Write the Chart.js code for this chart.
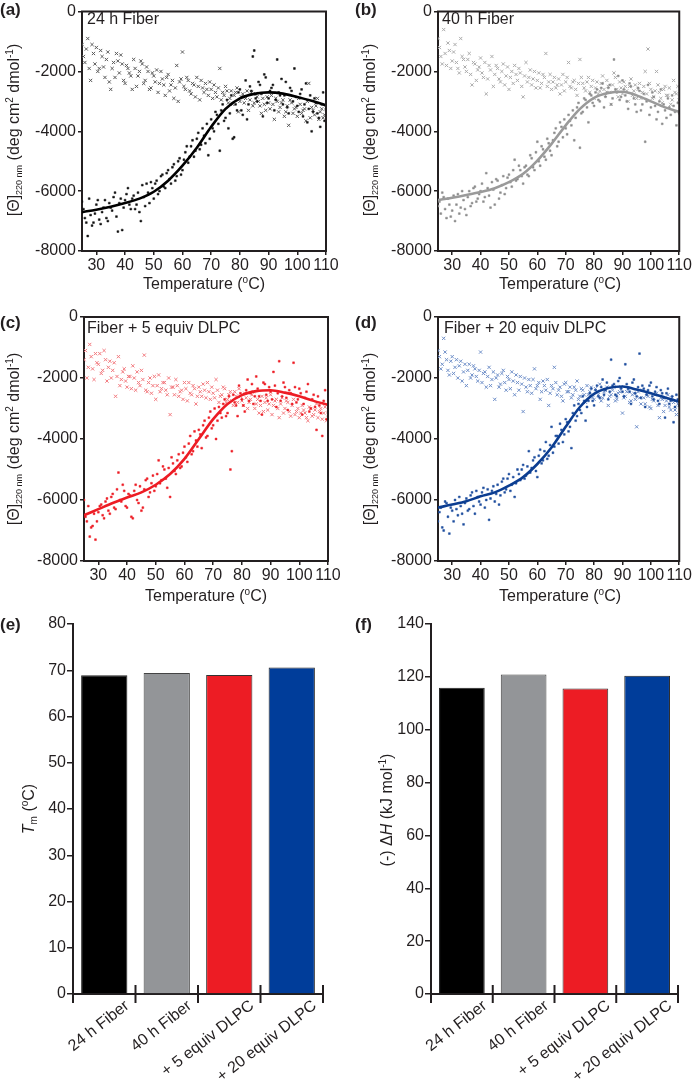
<!DOCTYPE html>
<html>
<head>
<meta charset="utf-8">
<script src="https://cdn.jsdelivr.net/npm/chart.js@4.4.0/dist/chart.umd.min.js"></script>
<style>
  html, body { margin: 0; padding: 0; background: #fff; overflow: hidden; }
  #page { position: relative; width: 693px; height: 1082px; }
  canvas { position: absolute; }
</style>
</head>
<body>
<div id="page">
  <canvas id="chartA" width="345" height="300" style="left:0;top:0"></canvas>
  <canvas id="chartB" width="348" height="300" style="left:345px;top:0"></canvas>
  <canvas id="chartC" width="345" height="305" style="left:0;top:300px"></canvas>
  <canvas id="chartD" width="348" height="305" style="left:345px;top:300px"></canvas>
  <canvas id="chartE" width="345" height="477" style="left:0;top:605px"></canvas>
  <canvas id="chartF" width="348" height="477" style="left:345px;top:605px"></canvas>
</div>
<script>
// measurement temperatures (°C): whole degrees and the half-degree readings in between
const temps = [25, 26, 27, 28, 29, 30, 31, 32, 33, 34,
  35, 36, 37, 38, 39, 40, 41, 42, 43, 44,
  45, 46, 47, 48, 49, 50, 51, 52, 53, 54,
  55, 56, 57, 58, 59, 60, 61, 62, 63, 64,
  65, 66, 67, 68, 69, 70, 71, 72, 73, 74,
  75, 76, 77, 78, 79, 80, 81, 82, 83, 84,
  85, 86, 87, 88, 89, 90, 91, 92, 93, 94,
  95, 96, 97, 98, 99, 100, 101, 102, 103, 104,
  105, 106, 107, 108, 109, 110];
const halfTemps = [25.5, 26.5, 27.5, 28.5, 29.5, 30.5, 31.5, 32.5, 33.5, 34.5,
  35.5, 36.5, 37.5, 38.5, 39.5, 40.5, 41.5, 42.5, 43.5, 44.5,
  45.5, 46.5, 47.5, 48.5, 49.5, 50.5, 51.5, 52.5, 53.5, 54.5,
  55.5, 56.5, 57.5, 58.5, 59.5, 60.5, 61.5, 62.5, 63.5, 64.5,
  65.5, 66.5, 67.5, 68.5, 69.5, 70.5, 71.5, 72.5, 73.5, 74.5,
  75.5, 76.5, 77.5, 78.5, 79.5, 80.5, 81.5, 82.5, 83.5, 84.5,
  85.5, 86.5, 87.5, 88.5, 89.5, 90.5, 91.5, 92.5, 93.5, 94.5,
  95.5, 96.5, 97.5, 98.5, 99.5, 100.5, 101.5, 102.5, 103.5, 104.5,
  105.5, 106.5, 107.5, 108.5, 109.5];

// (a) 24 h Fiber
const aDots = [-6350, -6900, -7500, -6800, -7050, -6450, -6950, -6700, -6300, -7000,
  -6550, -6200, -6850, -6400, -7300, -6300, -5900, -6600, -6150, -6450,
  -6700, -5800, -6500, -6050, -5700, -6250, -5650, -6000, -5450, -5900,
  -5300, -5750, -5100, -5500, -4900, -5300, -4700, -5050, -4500, -4850,
  -4250, -4600, -3900, -4400, -4800, -3600, -4000, -3450, -4650, -3100,
  -3550, -3900, -2800, -4200, -3300, -2600, -3450, -2300, -3100, -2650,
  -1300, -3000, -2450, -3500, -2200, -2900, -2550, -3300, -1600, -2800,
  -3100, -2350, -3400, -2650, -1900, -3150, -2750, -3500, -2400, -3250,
  -4000, -2900, -3400, -3850, -2700, -3300];
const aDotsHalf = [-6600, -7050, -6250, -7150, -6750, -6300, -7100, -6550, -6900, -6400,
  -6650, -6050, -7350, -6250, -6550, -6100, -6450, -6250, -6600, -6050,
  -7000, -6200, -5750, -6400, -5900, -5750, -6100, -5500, -5850, -5400,
  -5600, -5200, -5650, -5000, -5450, -4950, -4500, -4850, -4300, -4650,
  -4050, -4450, -4150, -3750, -4250, -3900, -3350, -3750, -3300, -3650,
  -2950, -3400, -4250, -3100, -2700, -3300, -2850, -3600, -2500, -1500,
  -2900, -2350, -2750, -2100, -3050, -2650, -2450, -2950, -2700, -2250,
  -2800, -3200, -2550, -3000, -2850, -3350, -2600, -3100, -3700, -2800,
  -3350, -3050, -3550, -3100, -3650];
const aCross = [-1100, -1700, -900, -2300, -1400, -1200, -1900, -1500, -2200, -1350,
  -2600, -1700, -1400, -2050, -1750, -2400, -1900, -2150, -1600, -2500,
  -2000, -1750, -2300, -2000, -2550, -2150, -1950, -2400, -2250, -2800,
  -2100, -2450, -2900, -1800, -2350, -1350, -2600, -2300, -2750, -2450,
  -2200, -2950, -2550, -2400, -2800, -2600, -2450, -2850, -1900, -2700,
  -2500, -3050, -2650, -2800, -2550, -3000, -2750, -2900, -3300, -2700,
  -3050, -2850, -3150, -2900, -3300, -3050, -2800, -3600, -3000, -3200,
  -2950, -3350, -3800, -3050, -3250, -3500, -3100, -3300, -3650, -2400,
  -3200, -3450, -2900, -3350, -3550, -3200];
const aCrossHalf = [-1500, -1250, -1900, -1100, -1750, -2000, -1300, -1850, -1600, -2350,
  -1900, -2200, -1650, -1450, -2300, -1800, -2050, -2600, -1900, -2150,
  -1650, -2400, -1850, -2600, -2050, -2350, -2700, -2000, -2450, -2200,
  -2650, -2300, -2550, -3000, -2250, -2500, -2200, -2650, -2400, -2850,
  -2500, -2300, -2700, -2600, -2350, -2900, -2700, -2550, -2950, -2800,
  -2650, -2900, -3100, -2700, -3350, -2850, -3050, -2650, -2950, -3150,
  -2750, -3000, -3400, -3100, -2850, -3250, -3100, -2900, -3350, -3050,
  -3500, -3150, -2950, -3400, -3200, -2900, -3400, -3250, -3000, -3550,
  -3300, -3150, -3600, -3250, -3450];

// (b) 40 h Fiber
const bDots = [-6500, -6750, -6200, -6900, -6450, -6650, -7000, -6100, -6550, -6300,
  -6800, -6000, -6400, -5850, -6250, -6000, -6350, -5400, -6150, -5700,
  -6450, -5650, -6050, -5500, -5900, -5450, -5850, -4950, -5600, -5300,
  -5750, -5150, -5500, -4900, -5300, -4350, -5150, -4600, -4950, -4400,
  -4800, -4050, -4500, -3700, -4200, -3900, -3450, -3800, -4300, -3200,
  -4550, -3350, -2950, -3700, -2800, -3150, -2600, -3000, -2400, -2850,
  -2550, -3100, -1600, -2700, -2950, -2300, -2800, -3250, -2500, -2900,
  -3350, -2650, -3100, -4350, -2450, -3200, -2850, -3600, -3000, -3750,
  -3300, -2900, -3450, -3150, -3800, -3400];
const bDotsHalf = [-6350, -6050, -6600, -6250, -6850, -6150, -6450, -6750, -6000, -6600,
  -6200, -6500, -5900, -6350, -6100, -5750, -6200, -5900, -6550, -5950,
  -5600, -6250, -5800, -6100, -5550, -5700, -5300, -5650, -5150, -5500,
  -5200, -5450, -4800, -5200, -4700, -5000, -4500, -4850, -4250, -4650,
  -4300, -3900, -4350, -3850, -3600, -4100, -3650, -3300, -3550, -3050,
  -3400, -2900, -3200, -2750, -3050, -2700, -2950, -2550, -3200, -2700,
  -2450, -2900, -2600, -2150, -2850, -2600, -3000, -2400, -2750, -3100,
  -2550, -3300, -2750, -3000, -3450, -2700, -3150, -3350, -2600, -3100,
  -3550, -3200, -2800, -3350, -3050];
const bCross = [-900, -1500, -600, -1800, -1300, -1650, -1100, -1900, -900, -1600,
  -2000, -1400, -2450, -1750, -1950, -1550, -2200, -2750, -1800, -1500,
  -2100, -1900, -2350, -1750, -2150, -2600, -2000, -1800, -2300, -2050,
  -2850, -1700, -2200, -2450, -2000, -2300, -2550, -2100, -1400, -2350,
  -2600, -2200, -2450, -2750, -2100, -2350, -1700, -2550, -2300, -2800,
  -1600, -2400, -2650, -2200, -2500, -2900, -2350, -2650, -2150, -2800,
  -2500, -3100, -2050, -2600, -2350, -2750, -2500, -3000, -2250, -2650,
  -2900, -2400, -2700, -2000, -1250, -2600, -2850, -2000, -2700, -3050,
  -2500, -2800, -3100, -2300, -2750, -2950];
const bCrossHalf = [-1200, -1750, -1400, -1050, -1900, -1350, -1700, -2050, -1500, -1850,
  -1600, -2100, -1700, -2300, -1850, -2050, -1700, -2250, -1950, -2500,
  -1800, -2250, -2000, -2450, -1850, -2200, -2400, -2100, -1900, -2500,
  -2150, -2350, -1950, -2250, -2550, -2050, -2400, -2200, -2500, -2100,
  -2350, -2550, -2250, -2450, -2650, -2200, -2500, -2350, -2600, -2400,
  -2200, -2550, -2350, -2700, -2300, -2550, -2750, -2400, -2600, -2300,
  -2700, -2450, -2200, -2850, -2550, -2350, -2650, -2500, -2800, -2450,
  -2600, -2900, -2500, -2750, -2400, -2900, -2650, -2450, -2900, -2600,
  -2800, -2550, -2950, -2700, -2500];

// (c) Fiber + 5 equiv DLPC
const cDots = [-6000, -6700, -7200, -6850, -7300, -6400, -6150, -6600, -5950, -6450,
  -5800, -6300, -5100, -6050, -5700, -6250, -5850, -6600, -5500, -6100,
  -6350, -5650, -5300, -5750, -5200, -5550, -4700, -5350, -5000, -5600,
  -5900, -4800, -5150, -4500, -4900, -4250, -4750, -3900, -4400, -4050,
  -3700, -4300, -3400, -3900, -3100, -3550, -4000, -2950, -3300, -2700,
  -3150, -5000, -2550, -2900, -2250, -2700, -3100, -2050, -2500, -2850,
  -1950, -2600, -3200, -2200, -2750, -2450, -1800, -2950, -1450, -2600,
  -2300, -3050, -2500, -1500, -2800, -2350, -3200, -2650, -2200, -3000,
  -2550, -3700, -2900, -3900, -2400, -3100];
const cDotsHalf = [-6550, -6200, -6900, -6450, -6700, -6200, -6500, -6050, -6350, -5900,
  -6250, -5650, -6000, -5500, -6200, -5800, -6550, -5700, -6000, -5550,
  -6250, -5350, -5900, -5450, -5700, -5150, -5450, -4900, -5300, -4950,
  -4600, -5050, -4700, -4950, -4450, -4600, -4150, -4500, -3750, -4250,
  -3850, -3550, -3950, -3300, -3650, -3000, -3400, -3150, -2850, -3250,
  -2600, -4400, -2800, -3250, -2500, -2900, -2400, -2750, -2200, -2600,
  -2350, -2750, -2150, -2550, -2300, -2700, -2250, -2500, -2750, -2150,
  -2650, -2400, -2850, -2300, -2700, -2500, -2850, -2450, -3100, -2700,
  -2950, -2600, -3150, -2750, -3350];
const cCross = [-1400, -2000, -900, -1700, -1200, -1550, -1850, -1100, -2100, -1450,
  -1750, -2600, -1300, -2050, -1700, -2300, -1950, -1600, -2400, -2150,
  -1750, -1250, -2450, -2000, -2250, -2700, -1900, -2350, -2150, -2550,
  -3200, -2300, -2050, -2600, -2400, -2150, -2750, -2500, -2250, -2850,
  -2300, -2600, -2400, -2150, -2700, -2500, -2050, -2800, -2550, -2350,
  -2700, -2450, -2900, -2600, -2350, -2750, -2500, -3000, -2700, -2450,
  -2850, -3150, -2600, -2800, -3050, -2550, -2900, -2700, -3300, -2650,
  -3000, -2800, -3250, -2700, -3100, -3300, -2900, -3150, -3400, -3000,
  -3200, -2850, -3100, -3350, -2950, -3200];
const cCrossHalf = [-1100, -1650, -1300, -2050, -1500, -1200, -1750, -1400, -1650, -2000,
  -1500, -1950, -2250, -1800, -2100, -1950, -2350, -2000, -1800, -2250,
  -2050, -2400, -2150, -2500, -1950, -2250, -2450, -2150, -2400, -2000,
  -2300, -2550, -2250, -2450, -2700, -2350, -2150, -2550, -2350, -2600,
  -2450, -2200, -2650, -2450, -2300, -2650, -2400, -2600, -2300, -2800,
  -2550, -2750, -2450, -2800, -2600, -2900, -2650, -2800, -2550, -3000,
  -2700, -2900, -3100, -2650, -2850, -3200, -2750, -3000, -2850, -3150,
  -2750, -3100, -2900, -3200, -3000, -3150, -3050, -3300, -2950, -3250,
  -3050, -3300, -3000, -3150, -3400];

// (d) Fiber + 20 equiv DLPC
const dDots = [-6700, -6250, -7000, -6100, -7100, -6350, -6000, -6500, -6200, -6800,
  -5950, -6300, -5750, -6450, -5900, -6150, -5600, -6000, -6650, -5700,
  -6050, -5500, -5850, -5300, -5650, -5150, -5500, -5900, -5000, -5350,
  -4850, -5200, -4400, -4950, -4600, -5250, -4350, -4700, -4100, -4550,
  -3600, -4250, -3900, -3500, -4100, -3350, -3750, -4300, -2900, -3250,
  -3050, -2600, -3400, -2750, -2350, -2900, -2250, -2650, -2050, -2400,
  -2700, -1400, -2200, -2600, -2000, -2450, -1550, -2350, -2850, -2050,
  -2600, -1200, -2250, -2950, -2400, -2150, -2700, -2300, -2850, -2500,
  -3300, -2350, -2750, -3450, -2550, -2900];
const dDotsHalf = [-6400, -6900, -6050, -6550, -6250, -6700, -6300, -5900, -6450, -6100,
  -6350, -5850, -6200, -5700, -6050, -5750, -6250, -5650, -5950, -5550,
  -5800, -6150, -5400, -5750, -5300, -5700, -5250, -5450, -5150, -5000,
  -5300, -4900, -5100, -4700, -5050, -4550, -4800, -4400, -4650, -4200,
  -4450, -3900, -4150, -3700, -3850, -3450, -3600, -3150, -3400, -2850,
  -3150, -2750, -2950, -2500, -2750, -2400, -2600, -2300, -2550, -2150,
  -2450, -2250, -2550, -2100, -2350, -2600, -2200, -2450, -2150, -2500,
  -2300, -2650, -2350, -2550, -2250, -2600, -2450, -2750, -2400, -2650,
  -2500, -2850, -2600, -2950, -2700];
const dCross = [-1100, -1700, -700, -1400, -1900, -1300, -1650, -2000, -1450, -1800,
  -2250, -1550, -1900, -1700, -2100, -1150, -1850, -2300, -1650, -2050,
  -2700, -1900, -2200, -1750, -2400, -2050, -1800, -2550, -2150, -1950,
  -3100, -2300, -2050, -2500, -1700, -2250, -2700, -2100, -2400, -2900,
  -2250, -1650, -2550, -2300, -2750, -2150, -2450, -2650, -2300, -2100,
  -2600, -2400, -2800, -2550, -2300, -2700, -2450, -2200, -2650, -2400,
  -2900, -2550, -2300, -2700, -2450, -3150, -2600, -2350, -2750, -2500,
  -3600, -2650, -2400, -2850, -2600, -3000, -2750, -2500, -3300, -2700,
  -2900, -2550, -3050, -2800, -3200, -2900];
const dCrossHalf = [-1300, -1550, -1150, -1750, -1450, -1850, -1400, -1600, -2100, -1550,
  -1750, -2000, -1600, -1950, -1750, -2150, -1800, -1950, -2250, -1800,
  -2000, -2300, -1850, -2150, -1950, -2350, -2100, -1900, -2400, -2200,
  -2000, -2450, -2250, -2050, -2350, -2150, -2450, -2250, -2050, -2500,
  -2350, -2150, -2400, -2600, -2200, -2450, -2300, -2550, -2400, -2700,
  -2350, -2550, -2250, -2450, -2650, -2350, -2550, -2750, -2450, -2300,
  -2600, -2400, -2750, -2500, -2300, -2650, -2450, -2800, -2550, -2700,
  -2450, -2850, -2650, -2500, -2950, -2700, -2550, -2900, -2650, -3100,
  -2750, -2950, -2650, -3050, -2850];

// fitted unfolding curves, read every 5 °C
const fitTemps = [25, 30, 35, 40, 45, 50, 55, 60, 65, 70, 75, 80, 85, 90, 95, 100, 105, 110];
const aFit = [-6700, -6620, -6520, -6400, -6250, -6020, -5650, -5150, -4550, -3850, -3250, -2900, -2750, -2700, -2740, -2850, -2980, -3130];
const bFit = [-6300, -6220, -6130, -6030, -5900, -5700, -5420, -4980, -4420, -3800, -3250, -2880, -2720, -2680, -2800, -3000, -3200, -3350];
const cFit = [-6500, -6300, -6100, -5920, -5750, -5500, -5150, -4650, -4000, -3350, -2850, -2560, -2430, -2400, -2480, -2600, -2750, -2880];
const dFit = [-6250, -6150, -6040, -5880, -5750, -5530, -5250, -4820, -4280, -3600, -2950, -2520, -2330, -2280, -2380, -2500, -2640, -2780];

const tempTicks = [30, 40, 50, 60, 70, 80, 90, 100, 110];

// (e), (f) bar panels
const samples = ["24 h Fiber", "40 h Fiber", "+ 5 equiv DLPC", "+ 20 equiv DLPC"];
const tmValues = [68.9, 69.4, 69.0, 70.6];
const dhValues = [115.9, 120.9, 115.6, 120.4];
const barColors = ["#000000", "#939598", "#ED1C24", "#003D9A"];

const FONT = '"Liberation Sans", Arial, sans-serif';
const INK = "#231F20";

function fontOf(r) {
  return `${r.italic ? "italic " : ""}${r.bold ? "bold " : ""}${r.size || 16}px ${FONT}`;
}

// draw a line of text made of runs (for sub/superscripts), centred or left aligned
function drawRuns(ctx, runs, x, y, angle, align) {
  ctx.save();
  ctx.translate(x, y);
  ctx.rotate(angle || 0);
  ctx.fillStyle = INK;
  ctx.textBaseline = "middle";
  ctx.textAlign = "left";
  let total = 0;
  const widths = runs.map(r => {
    ctx.font = fontOf(r);
    const w = ctx.measureText(r.t).width;
    total += w;
    return w;
  });
  let cx = align === "left" ? 0 : -total / 2;
  runs.forEach((r, i) => {
    ctx.font = fontOf(r);
    ctx.fillText(r.t, cx, r.dy || 0);
    cx += widths[i];
  });
  ctx.restore();
}

const thetaTitle = [{ t: "[Θ]" }, { t: "220 nm", size: 9, dy: 5 }, { t: " (deg cm" }, { t: "2", size: 10, dy: -5 },
  { t: " dmol" }, { t: "-1", size: 10, dy: -5 }, { t: ")" }];
const tempTitle = [{ t: "Temperature (" }, { t: "o", size: 10, dy: -5 }, { t: "C)" }];
const tmTitle = [{ t: "T", italic: true }, { t: "m", size: 10, dy: 4 }, { t: " (" }, { t: "o", size: 10, dy: -5 }, { t: "C)" }];
const dhTitle = [{ t: "(-) Δ" }, { t: "H", italic: true }, { t: " (kJ mol" }, { t: "-1", size: 10, dy: -5 }, { t: ")" }];

function textPlugin(cfg) {
  return {
    id: "panelText",
    afterDraw(chart) {
      const ctx = chart.ctx;
      drawRuns(ctx, [{ t: cfg.letter, bold: true, size: 17 }], cfg.letterX, cfg.letterY, 0, "left");
      if (cfg.label) drawRuns(ctx, [{ t: cfg.label }], cfg.labelX, cfg.labelY, 0, "left");
      if (cfg.xTitle) drawRuns(ctx, cfg.xTitle, cfg.xTitleX, cfg.xTitleY, 0);
      drawRuns(ctx, cfg.yTitle, cfg.yTitleX, cfg.yTitleY, -Math.PI / 2);
    }
  };
}

// top and right edges of the scatter frames
const framePlugin = {
  id: "frame",
  afterDraw(chart) {
    const { ctx, chartArea: a } = chart;
    ctx.save();
    ctx.strokeStyle = INK;
    ctx.lineWidth = 2;
    ctx.beginPath();
    ctx.moveTo(a.left - 1, a.top);
    ctx.lineTo(a.right, a.top);
    ctx.lineTo(a.right, a.bottom + 1);
    ctx.stroke();
    ctx.restore();
  }
};

// category boundary ticks and slanted sample names for the bar panels
const barAxisPlugin = {
  id: "barAxis",
  afterDraw(chart) {
    const ctx = chart.ctx;
    const xs = chart.scales.x;
    const y0 = chart.chartArea.bottom;
    const step = (xs.right - xs.left) / samples.length;
    ctx.save();
    ctx.strokeStyle = INK;
    ctx.lineWidth = 2;
    for (let i = 0; i <= samples.length; i++) {
      const x = xs.left + i * step;
      ctx.beginPath();
      ctx.moveTo(x, i === 0 ? y0 : y0 - 9);
      ctx.lineTo(x, y0 + 9);
      ctx.stroke();
    }
    ctx.fillStyle = INK;
    ctx.font = `16px ${FONT}`;
    ctx.textAlign = "right";
    ctx.textBaseline = "middle";
    samples.forEach((s, i) => {
      const x = xs.getPixelForValue(i) + 23;
      ctx.save();
      ctx.translate(x, y0 + 10);
      ctx.rotate(-38 * Math.PI / 180);
      ctx.fillText(s, 0, 0);
      ctx.restore();
    });
    ctx.restore();
  }
};

function renderMeltChart(id, dots, cross, fit, colors, box, text) {
  const toPts = (ts, ys) => ts.map((t, i) => ({ x: t, y: ys[i] }));
  new Chart(document.getElementById(id), {
    type: "scatter",
    data: {
      datasets: [
        {
          type: "line",
          data: toPts(fitTemps, fit),
          borderColor: colors.line,
          borderWidth: 2.6,
          pointRadius: 0,
          cubicInterpolationMode: "monotone",
          fill: false
        },
        {
          data: toPts(temps, dots[0]).concat(toPts(halfTemps, dots[1])),
          pointStyle: "rect",
          pointRadius: 1.3,
          backgroundColor: colors.dot,
          borderColor: colors.dot,
          borderWidth: 0.5
        },
        {
          data: toPts(temps, cross[0]).concat(toPts(halfTemps, cross[1])),
          pointStyle: "crossRot",
          pointRadius: 2.3,
          borderColor: colors.cross,
          borderWidth: 1
        }
      ]
    },
    options: {
      responsive: false,
      animation: false,
      layout: { autoPadding: false, padding: { left: 0, top: box.top, right: box.right, bottom: 0 } },
      plugins: { legend: { display: false }, tooltip: { enabled: false } },
      scales: {
        x: {
          type: "linear",
          min: 25,
          max: 110,
          afterBuildTicks: s => { s.ticks = tempTicks.map(v => ({ value: v })); },
          afterFit: s => { s.height = box.xH; },
          border: { color: INK, width: 2 },
          grid: { drawOnChartArea: false, color: INK, lineWidth: 1.5, tickLength: 4 },
          ticks: { color: INK, font: { family: FONT, size: 16 }, padding: 1, maxRotation: 0, autoSkip: false }
        },
        y: {
          min: -8000,
          max: 0,
          afterFit: s => { s.width = box.yW; },
          border: { color: INK, width: 2 },
          grid: { drawOnChartArea: false, color: INK, lineWidth: 1.5, tickLength: 4 },
          ticks: { stepSize: 2000, color: INK, font: { family: FONT, size: 16 }, padding: 2, callback: v => String(v) }
        }
      }
    },
    plugins: [framePlugin, textPlugin(text)]
  });
}

function renderBarChart(id, values, max, step, box, text) {
  new Chart(document.getElementById(id), {
    type: "bar",
    data: {
      labels: samples,
      datasets: [{
        data: values,
        backgroundColor: barColors,
        borderColor: ["#222", "#444", "#333", "#222"],
        borderWidth: 1,
        barPercentage: 0.74,
        categoryPercentage: 1
      }]
    },
    options: {
      responsive: false,
      animation: false,
      layout: { autoPadding: false, padding: { left: 0, top: box.top, right: box.right, bottom: 0 } },
      plugins: { legend: { display: false }, tooltip: { enabled: false } },
      scales: {
        x: {
          afterFit: s => { s.height = box.xH; },
          border: { color: INK, width: 2 },
          grid: { display: false },
          ticks: { display: false }
        },
        y: {
          min: 0,
          max: max,
          afterFit: s => { s.width = box.yW; },
          border: { color: INK, width: 2 },
          grid: { drawOnChartArea: false, color: INK, lineWidth: 1.5, tickLength: 6 },
          ticks: { stepSize: step, color: INK, font: { family: FONT, size: 16 }, padding: 1 }
        }
      }
    },
    plugins: [barAxisPlugin, textPlugin(text)]
  });
}

window.addEventListener("DOMContentLoaded", () => {
  renderMeltChart("chartA", [aDots, aDotsHalf], [aCross, aCrossHalf], aFit,
    { dot: "#111111", cross: "#5a5a5a", line: "#000000" },
    { top: 8, right: 19, yW: 82, xH: 49 },
    { letter: "(a)", letterX: 0, letterY: 10, label: "24 h Fiber", labelX: 87, labelY: 20,
      xTitle: tempTitle, xTitleX: 204, xTitleY: 285, yTitle: thetaTitle, yTitleX: 15, yTitleY: 130 });

  renderMeltChart("chartB", [bDots, bDotsHalf], [bCross, bCrossHalf], bFit,
    { dot: "#8c8c8c", cross: "#ababab", line: "#9a9a9a" },
    { top: 8, right: 11, yW: 93, xH: 49 },
    { letter: "(b)", letterX: 10, letterY: 10, label: "40 h Fiber", labelX: 97, labelY: 20,
      xTitle: tempTitle, xTitleX: 215, xTitleY: 285, yTitle: thetaTitle, yTitleX: 26, yTitleY: 130 });

  renderMeltChart("chartC", [cDots, cDotsHalf], [cCross, cCrossHalf], cFit,
    { dot: "#ED1C24", cross: "#F27A7F", line: "#ED1C24" },
    { top: 17, right: 17, yW: 84, xH: 44 },
    { letter: "(c)", letterX: 0, letterY: 23, label: "Fiber + 5 equiv DLPC", labelX: 87, labelY: 29,
      xTitle: tempTitle, xTitleX: 206, xTitleY: 297, yTitle: thetaTitle, yTitleX: 15, yTitleY: 139 });

  renderMeltChart("chartD", [dDots, dDotsHalf], [dCross, dCrossHalf], dFit,
    { dot: "#1F4E9E", cross: "#6F8FC8", line: "#0B3D91" },
    { top: 17, right: 11, yW: 93, xH: 44 },
    { letter: "(d)", letterX: 10, letterY: 23, label: "Fiber + 20 equiv DLPC", labelX: 99, labelY: 29,
      xTitle: tempTitle, xTitleX: 215, xTitleY: 297, yTitle: thetaTitle, yTitleX: 26, yTitleY: 139 });

  renderBarChart("chartE", tmValues, 80, 10,
    { top: 19, right: 22, yW: 73, xH: 88 },
    { letter: "(e)", letterX: 0, letterY: 20, yTitle: tmTitle, yTitleX: 30, yTitleY: 204 });

  renderBarChart("chartF", dhValues, 140, 20,
    { top: 19, right: 15, yW: 86, xH: 88 },
    { letter: "(f)", letterX: 10, letterY: 20, yTitle: dhTitle, yTitleX: 43, yTitleY: 205 });
});
</script>
</body>
</html>
